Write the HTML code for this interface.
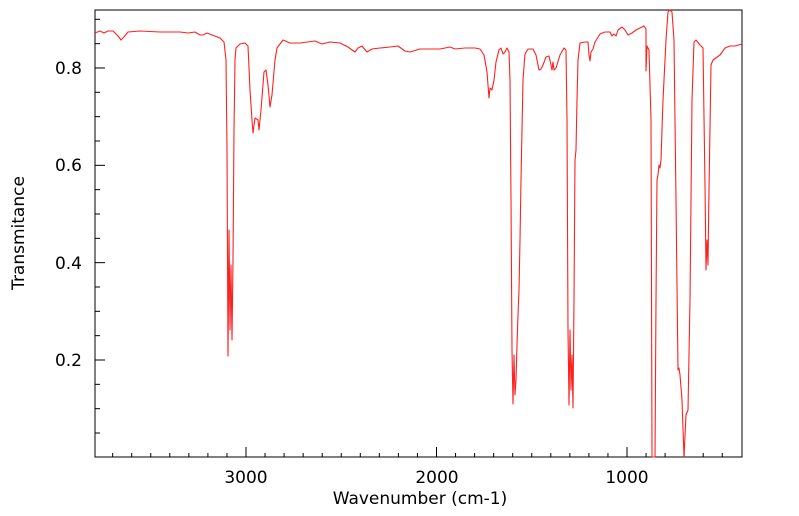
<!DOCTYPE html>
<html><head><style>
body{margin:0;background:#fff;}
svg{display:block;font-family:"DejaVu Sans","Liberation Sans",sans-serif;}
</style></head><body>
<svg width="799" height="516" viewBox="0 0 799 516">
<rect x="95" y="10" width="647" height="447" fill="none" stroke="#000" stroke-width="1"/>
<g stroke="#000" stroke-width="1" id="ticks"></g>
<g font-size="17" fill="#000">
<text x="82" y="74" text-anchor="end">0.8</text>
<text x="82" y="171" text-anchor="end">0.6</text>
<text x="82" y="269" text-anchor="end">0.4</text>
<text x="82" y="366" text-anchor="end">0.2</text>
<text x="246" y="483" text-anchor="middle">3000</text>
<text x="437" y="483" text-anchor="middle">2000</text>
<text x="627" y="483" text-anchor="middle">1000</text>
<text x="420" y="504" text-anchor="middle">Wavenumber (cm-1)</text>
<text transform="translate(24,233) rotate(-90)" text-anchor="middle">Transmitance</text>
</g>
<polyline fill="none" stroke="#ff2020" stroke-width="1.1" stroke-linejoin="round" points="
95,33 100,31 104,33 108,31 113,31 118,36 121,40 124,37 128,32 140,31 160,32 180,32 188,33 195,32 200,35 203,35 207,33 212,35 220,38 224,42 226,60 227,150 228,356 229,230 230,330 231,265 232,340 233,260 234,130 235,60 236,48 240,44 245,43 248,46 250,90 252,120 253,133 255,118 258,120 259,130 261,110 264,72 266,70 268,85 270,107 272,95 275,60 277,48 283,40 290,43 300,43 315,41 322,44 330,42 340,43 348,47 355,52 358,48 362,46 367,52 372,49 380,48 390,47 398,46 405,51 410,52 420,49 440,49 450,47 455,49 465,48 475,48 480,49 484,55 487,72 489,98 490,88 492,90 494,80 496,62 499,50 501,48 503,54 505,52 507,48 509,52 510,80 511,200 512,350 513,404 514,355 515,395 516,380 517,345 518,315 519,290 520,240 521,180 523,80 525,54 528,49 533,49 536,55 539,70 541,69 543,65 546,57 549,56 551,65 552,70 553,62 554,70 556,68 560,55 564,48 566,50 567,120 568,330 569,405 570,330 571,390 572,355 573,408 574,300 575,160 576,150 577,100 578,60 580,43 585,42 588,42 589,55 590,61 591,52 593,49 595,42 600,34 605,32 610,32 612,36 614,34 616,36 618,30 622,27 625,30 628,35 632,33 636,30 640,28 644,26 646,29 646,71 647,46 649,50 651,120 652,457 655,457 656,300 657,180 658,175 659,165 660,168 661,160 663,100 666,40 668,12 670,10 672,12 674,40 676,200 678,370 679,368 680,375 682,400 684,457 686,415 688,410 690,300 692,100 694,42 696,40 700,45 703,48 705,185 706,270 707,240 708,265 709,190 711,65 713,60 720,55 725,48 730,46 735,46 742,44"/>
</svg>
<script>
var g=document.getElementById('ticks'),s='';
function L(x1,y1,x2,y2){s+='<line x1="'+x1+'" y1="'+y1+'" x2="'+x2+'" y2="'+y2+'"/>';}
for(var w=3700;w>=500;w-=100){var x=246+(3000-w)*0.1905;var len=(w%1000==0)?10:4;L(x,457,x,457-len);}
for(var v=0.05;v<=0.91;v+=0.05){var y=360-(v-0.2)*486.7;var major=Math.abs(v*10-Math.round(v*10))<0.01&&Math.round(v*10)%2==0;L(95,y,95+(major?10:5),y);}
g.innerHTML=s;
</script>
</body></html>
